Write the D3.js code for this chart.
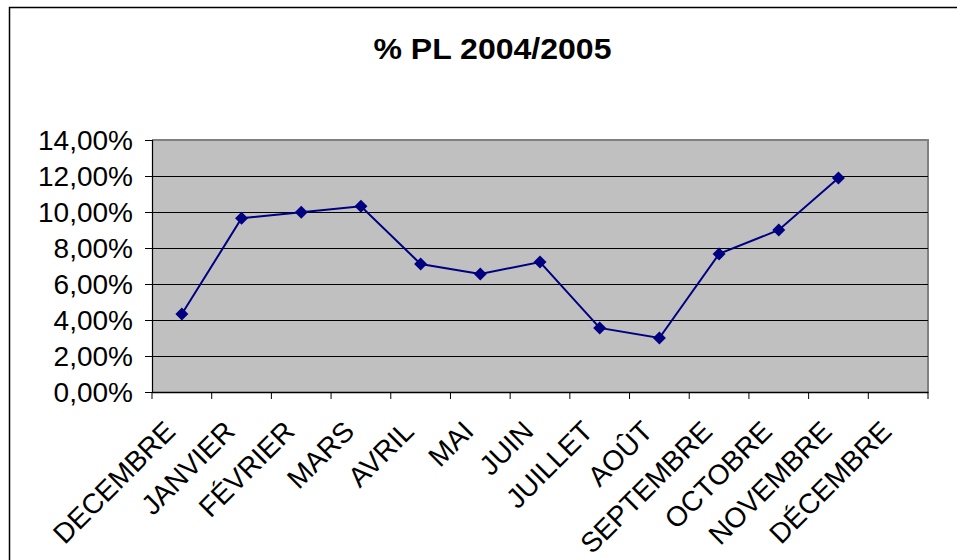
<!DOCTYPE html>
<html><head><meta charset="utf-8">
<script src="https://cdn.jsdelivr.net/npm/d3@7"></script>
<style>body{margin:0;background:#fff;}svg{display:block;font-family:"Liberation Sans",Arial,sans-serif;}</style>
</head><body>
<script>
const title = "% PL 2004/2005";
const categories = ["DECEMBRE","JANVIER","FÉVRIER","MARS","AVRIL","MAI","JUIN","JUILLET","AOÛT","SEPTEMBRE","OCTOBRE","NOVEMBRE","DÉCEMBRE"];
const values = [0.0433,0.0965,0.0998,0.1032,0.0711,0.0656,0.0722,0.0356,0.0300,0.0767,0.0900,0.1189,null];
const yTicks = [0,0.02,0.04,0.06,0.08,0.10,0.12,0.14];

const W=957,H=560;
const m={l:152,r:928,t:140,b:392};
const svg=d3.select("body").append("svg").attr("width",W).attr("height",H);

// chart frame
svg.append("path").attr("d",`M9.5,${H+5}V7.5H${W+5}`).attr("fill","none").attr("stroke","#000").attr("stroke-width",1.5);

const x=d3.scaleBand().domain(categories).range([m.l,m.r]).paddingInner(0).paddingOuter(0);
const y=d3.scaleLinear().domain([0,0.14]).range([m.b,m.t]);

// plot area
svg.append("rect").attr("x",m.l).attr("y",m.t).attr("width",m.r-m.l).attr("height",m.b-m.t).attr("fill","#c0c0c0");
svg.append("path").attr("d",`M${m.l},${m.t}H${m.r}V${m.b}`).attr("fill","none").attr("stroke","#808080").attr("stroke-width",2);

// gridlines
svg.append("g").selectAll("line").data(yTicks.filter(d=>d>0&&d<0.14)).join("line")
  .attr("x1",m.l).attr("x2",m.r).attr("y1",d=>Math.round(y(d))+0.5).attr("y2",d=>Math.round(y(d))+0.5)
  .attr("stroke","#000").attr("stroke-width",1);

// y axis
const fmt=d=>d3.format(".2f")(d*100).replace(".",",")+"%";
const ya=svg.append("g").attr("transform",`translate(${m.l},0)`)
  .call(d3.axisLeft(y).tickValues(yTicks).tickFormat(fmt).tickSize(7).tickPadding(12));
ya.select(".domain").attr("stroke","#000").attr("stroke-width",1.2);
ya.selectAll(".tick line").attr("stroke","#000");
ya.selectAll("text").attr("font-size",28).attr("fill","#000").attr("font-family","Liberation Sans, Arial, sans-serif").attr("dy","0.35em");

// x axis
const xa=svg.append("g").attr("transform",`translate(0,${m.b})`)
  .call(d3.axisBottom(x).tickSize(0).tickFormat(""));
xa.select(".domain").attr("stroke","#000").attr("stroke-width",1.5);
const boundaries=d3.range(categories.length+1).map(i=>m.l+i*x.bandwidth());
svg.append("g").selectAll("line").data(boundaries).join("line")
  .attr("x1",d=>d).attr("x2",d=>d).attr("y1",m.b).attr("y2",m.b+7).attr("stroke","#000").attr("stroke-width",1);
svg.append("g").selectAll("text").data(categories).join("text")
  .attr("transform",d=>`translate(${x(d)+x.bandwidth()/2-5},433) rotate(-45)`)
  .attr("text-anchor","end").attr("font-size",28).attr("fill","#000").text(d=>d);

// line
const pts=categories.map((c,i)=>({c,v:values[i]})).filter(d=>d.v!=null);
const line=d3.line().x(d=>x(d.c)+x.bandwidth()/2).y(d=>y(d.v));
svg.append("path").datum(pts).attr("d",line).attr("fill","none").attr("stroke","#000080").attr("stroke-width",2);
svg.append("g").selectAll("path").data(pts).join("path")
  .attr("transform",d=>`translate(${x(d.c)+x.bandwidth()/2},${y(d.v)})`)
  .attr("d","M0,-6.5L6.5,0L0,6.5L-6.5,0Z").attr("fill","#000080");

// title
svg.append("text").attr("x",492.5).attr("y",59).attr("text-anchor","middle")
  .attr("font-size",30).attr("font-weight","bold").attr("textLength",238).attr("lengthAdjust","spacingAndGlyphs").text(title);
</script>
</body></html>
